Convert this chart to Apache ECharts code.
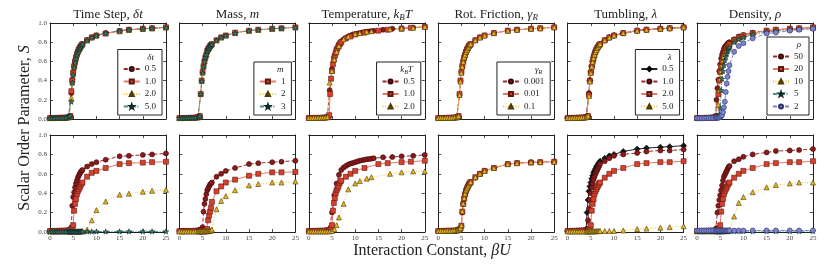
<!DOCTYPE html>
<html><head><meta charset="utf-8">
<script src="https://cdn.jsdelivr.net/npm/echarts@6/dist/echarts.min.js"></script>
<style>html,body{margin:0;padding:0;background:#fff}#c{width:830px;height:277px}</style>
</head><body><div id="c"></div><script>
// ---------- x grids ----------
const XS = [0,0.5,1,1.5,2,2.5,3,3.5,4, 4.2,4.4,4.6,4.8,5,5.2,5.4,5.6,5.8,6,6.2,6.4,6.6,6.8,7, 8,9,10,12,15,17,20,22,25];
const XT = [0,0.5,1,1.5,2,2.5,3,3.5,4, 4.5,5,5.5,6,6.5,7,7.5,8,8.5,9,9.5,10,10.5,11,11.5,12,12.5,13,13.5,14, 16,18,20,22.5,25];
const XT2 = [0,0.5,1,1.5,2,2.5,3,3.5,4, 4.5,5,5.5,6,6.5, 7.5,8.5,10,11,12.5,13.5, 17.5,20,22.5,25];
const X_TICKS = [0,5,10,15,20,25];
const Y_TICKS = [0,0.2,0.4,0.6,0.8,1.0];

// ---------- top row ----------
const ts_top_05 = [.010,.010,.010,.011,.012,.012,.013,.015,.018, .020,.030,.270,.410,.490,.550,.600,.640,.670,.700,.720,.740,.760,.770,.780, .820,.850,.870,.895,.915,.930,.940,.945,.955];
const ts_top_10 = [.010,.010,.011,.011,.012,.013,.013,.015,.017, .020,.030,.290,.400,.480,.550,.600,.640,.675,.700,.725,.740,.755,.770,.780, .820,.850,.870,.890,.915,.930,.940,.945,.955];
const ts_top_20 = [.010,.011,.011,.012,.012,.013,.014,.015,.018, .022,.030,.220,.380,.470,.540,.590,.630,.670,.700,.720,.740,.755,.770,.780, .820,.850,.870,.895,.915,.930,.940,.945,.955];
const ts_top_50 = [.010,.010,.011,.012,.012,.013,.014,.016,.020, .025,.035,.180,.380,.460,.540,.590,.630,.665,.695,.720,.735,.755,.770,.780, .820,.850,.870,.895,.920,.930,.940,.945,.955];

const m_top_1 = [.010,.010,.010,.011,.012,.012,.013,.015,.018, .020,.030,.260,.400,.490,.550,.600,.640,.670,.710,.730,.740,.760,.770,.780, .820,.850,.870,.900,.920,.930,.940,.945,.955];
const m_top_2 = [.010,.011,.011,.011,.012,.013,.013,.015,.017, .021,.030,.270,.400,.485,.550,.600,.645,.675,.705,.725,.745,.760,.770,.780, .820,.850,.870,.895,.920,.930,.940,.945,.955];
const m_top_3 = [.010,.010,.011,.012,.012,.013,.014,.016,.019, .022,.032,.260,.395,.480,.545,.600,.640,.670,.705,.725,.740,.760,.770,.780, .820,.850,.870,.895,.920,.930,.940,.945,.955];

const tp_top_05 = [.010,.010,.011,.011,.012,.013,.014,.016,.020, .300,.520,.650,.730,.780,.810,.830,.845,.860,.870,.880,.885,.890,.895,.900,.905,.910,.912,.915,.918, .930,.940,.945,.952,.960];
const tp_top_10 = [.010,.010,.011,.011,.012,.012,.013,.015,.018, .020,.040,.260,.420,.500,.570,.620,.660,.690,.720,.740,.760,.775,.790,.800, .840,.860,.880,.900,.920,.930,.940,.950,.960];
const tp_top_20 = [.010,.011,.011,.012,.013,.013,.014,.016,.020, .380,.500,.620,.700,.760, .830,.860,.885,.895,.910,.915, .935,.945,.950,.960];

const rf_top_0001 = [.010,.010,.010,.011,.012,.012,.013,.015,.018, .020,.030,.250,.400,.490,.550,.600,.640,.670,.705,.725,.745,.760,.770,.780, .820,.850,.870,.895,.920,.930,.940,.945,.955];
const rf_top_001 = [.010,.010,.011,.011,.012,.013,.013,.015,.017, .020,.030,.260,.400,.490,.550,.600,.640,.670,.700,.725,.740,.760,.770,.780, .820,.850,.870,.895,.920,.930,.940,.945,.955];
const rf_top_01 = [.010,.011,.011,.012,.012,.013,.014,.016,.019, .021,.030,.250,.390,.480,.545,.595,.640,.670,.700,.720,.740,.755,.770,.780, .820,.850,.870,.895,.920,.930,.940,.945,.955];

const tu_top_05 = [.010,.010,.010,.011,.012,.012,.013,.015,.018, .020,.030,.260,.400,.490,.550,.600,.640,.675,.705,.725,.745,.760,.770,.780, .820,.850,.870,.895,.920,.930,.940,.945,.955];
const tu_top_10 = [.010,.010,.011,.011,.012,.013,.013,.015,.017, .020,.032,.270,.405,.490,.550,.600,.645,.675,.705,.725,.745,.760,.770,.780, .820,.850,.870,.895,.920,.930,.940,.945,.955];
const tu_top_20 = [.010,.011,.011,.012,.012,.013,.014,.016,.019, .021,.030,.250,.395,.485,.545,.600,.640,.670,.700,.720,.740,.755,.770,.780, .820,.850,.870,.895,.920,.930,.940,.945,.955];
const tu_top_50 = [.010,.010,.011,.012,.012,.013,.014,.016,.020, .022,.034,.240,.390,.480,.545,.595,.635,.670,.700,.720,.740,.755,.770,.780, .820,.850,.870,.895,.920,.930,.940,.945,.955];

const dn_top_50 = [.010,.010,.011,.012,.012,.013,.015,.018,.030, .200,.320,.410,.500,.570,.630,.670,.700,.730,.750,.760,.775,.785,.795,.800, .830,.860,.875,.900,.920,.930,.940,.945,.955];
const dn_top_20 = [.010,.010,.010,.011,.012,.012,.013,.015,.018, .020,.030,.260,.400,.490,.550,.600,.640,.670,.705,.725,.745,.760,.770,.780, .820,.850,.870,.895,.920,.930,.940,.945,.955];
const dn_top_10 = [.010,.010,.011,.011,.012,.013,.014,.016,.019, .022,.030,.150,.300,.420,.500,.560,.610,.650,.680,.700,.720,.740,.750,.760, .810,.840,.860,.890,.910,.925,.935,.940,.950];
const dn_top_5 = [.010,.010,.010,.011,.011,.012,.013,.014,.016, .018,.020,.025,.050,.110,.300,.420,.500,.560,.610,.650,.680,.710,.730,.745, .800,.830,.850,.880,.905,.915,.930,.935,.945];
const dn_top_2 = [.008,.008,.008,.009,.009,.010,.010,.011,.012, .012,.013,.014,.016,.020,.030,.040,.070,.120,.180,.280,.370,.440,.500,.560, .700,.760,.790,.840,.890,.900,.920,.930,.940];

// ---------- bottom row ----------
const ts_bot_05 = [.010,.010,.011,.011,.012,.012,.013,.014,.015, .015,.020,.050,.270,.360,.410,.460,.500,.530,.560,.580,.600,.615,.630,.640, .675,.700,.720,.745,.780,.785,.795,.800,.810];
const ts_bot_10 = [.010,.010,.011,.011,.012,.012,.013,.014,.016, .018,.020,.025,.035,.070,.220,.290,.340,.390,.420,.440,.460,.480,.500,.510, .570,.610,.630,.660,.700,.710,.715,.720,.725];
const ts_bot_20 = [.005,.005,.005,.005,.005,.005,.005,.005,.005, .005,.005,.005,.005,.005,.005,.006,.006,.006,.006,.006,.007,.007,.008,.008, .025,.120,.225,.315,.385,.395,.415,.425,.435];
const ts_bot_50 = [.004,.004,.004,.004,.005,.005,.005,.005,.005, .005,.005,.005,.005,.005,.005,.005,.005,.005,.005,.005,.005,.005,.005,.005, .005,.005,.005,.005,.006,.006,.006,.006,.006];

const m_bot_1 = [.010,.010,.011,.011,.012,.012,.013,.014,.016, .018,.020,.025,.030,.050,.210,.290,.340,.390,.430,.450,.470,.490,.500,.510, .570,.600,.630,.660,.700,.710,.720,.725,.735];
const m_bot_2 = [.008,.008,.009,.009,.010,.010,.011,.011,.012, .012,.013,.013,.014,.015,.016,.017,.018,.020,.030,.120,.170,.210,.250,.310, .420,.470,.510,.540,.580,.600,.615,.615,.620];
const m_bot_3 = [.006,.006,.006,.006,.006,.006,.006,.006,.006, .006,.006,.006,.006,.006,.006,.007,.007,.008,.008,.009,.010,.012,.015,.025, .235,.320,.370,.430,.480,.495,.510,.510,.520];

const tp_bot_05 = [.010,.010,.011,.011,.012,.012,.013,.014,.016, .030,.200,.380,.500,.590,.640,.665,.680,.695,.705,.712,.720,.728,.735,.740,.745,.750,.752,.756,.760, .770,.772,.780,.785,.795];
const tp_bot_10 = [.010,.010,.011,.011,.012,.012,.013,.014,.016, .018,.020,.025,.040,.070,.220,.300,.350,.400,.430,.450,.470,.500,.520,.530, .570,.600,.630,.660,.700,.710,.720,.725,.735];
const tp_bot_20 = [.005,.005,.005,.005,.005,.005,.005,.005,.005, .006,.010,.030,.070,.150, .290,.440,.500,.525,.550,.565, .600,.615,.625,.625];

const rf_bot_0001 = [.010,.010,.011,.011,.012,.012,.013,.014,.016, .018,.020,.025,.035,.060,.200,.290,.350,.390,.430,.450,.470,.490,.505,.515, .560,.600,.630,.660,.700,.710,.720,.720,.725];
const rf_bot_001 = [.010,.010,.011,.012,.012,.013,.013,.014,.016, .018,.021,.026,.036,.065,.210,.290,.345,.390,.425,.450,.470,.490,.505,.515, .565,.600,.630,.660,.700,.710,.715,.720,.725];
const rf_bot_01 = [.011,.011,.011,.012,.012,.013,.014,.015,.017, .019,.022,.028,.040,.070,.215,.295,.350,.395,.430,.450,.470,.490,.505,.515, .565,.600,.630,.660,.700,.710,.720,.720,.725];

const tu_bot_05 = [.010,.010,.011,.011,.012,.013,.014,.016,.030, .200,.330,.420,.470,.510,.550,.580,.610,.630,.650,.670,.685,.700,.715,.730, .760,.785,.800,.830,.855,.865,.875,.880,.890];
const tu_bot_10 = [.010,.010,.011,.011,.012,.013,.014,.015,.020, .030,.120,.240,.330,.400,.460,.500,.540,.570,.600,.620,.640,.660,.680,.700, .730,.760,.785,.800,.815,.830,.840,.840,.850];
const tu_bot_20 = [.010,.010,.011,.011,.012,.012,.013,.014,.016, .018,.020,.025,.035,.070,.220,.290,.340,.390,.420,.440,.460,.480,.500,.510, .560,.600,.630,.660,.700,.710,.720,.720,.730];
const tu_bot_50 = [.005,.005,.005,.005,.005,.005,.005,.005,.006, .006,.006,.006,.007,.007,.007,.008,.008,.008,.008,.009,.009,.009,.010,.010, .010,.010,.010,.015,.030,.035,.045,.050,.060];

const dn_bot_50 = [.010,.010,.011,.011,.012,.013,.014,.016,.020, .040,.200,.270,.330,.380,.430,.480,.530,.570,.590,.610,.630,.650,.670,.680, .730,.750,.775,.800,.820,.835,.840,.845,.855];
const dn_bot_20 = [.010,.010,.011,.011,.012,.012,.013,.014,.016, .018,.020,.025,.035,.070,.210,.290,.340,.390,.420,.440,.460,.480,.500,.510, .560,.600,.630,.660,.700,.710,.720,.720,.730];
const dn_bot_10 = [.008,.008,.008,.008,.008,.008,.008,.008,.008, .008,.008,.008,.008,.008,.008,.009,.009,.009,.010,.010,.011,.012,.014,.020, .160,.300,.360,.410,.460,.485,.500,.510,.510];
const dn_bot_5 = [.007,.007,.007,.007,.008,.008,.008,.008,.008, .008,.008,.008,.008,.008,.008,.008,.008,.008,.008,.008,.008,.008,.008,.008, .008,.008,.009,.009,.009,.009,.009,.009,.009];
const dn_bot_2 = [.015,.015,.015,.015,.015,.015,.015,.015,.015, .015,.015,.015,.015,.015,.015,.015,.015,.015,.015,.015,.015,.015,.015,.015, .015,.015,.015,.016,.016,.016,.016,.016,.016];

// ---------- layout / style ----------
const W = 830, HH = 277;
const FONT = '"Liberation Serif", "DejaVu Serif", serif';
const GL = 50, GSTEP = 129.4, GW = 116;
const ROW_TOP = [23, 135], ROW_H = [96, 97];
const STAR = 'path://M50,0 L61.8,35.1 L97.6,34.5 L69.1,56.2 L79.4,90.5 L50,70 L20.6,90.5 L30.9,56.2 L2.4,34.5 L38.2,35.1 Z';
const STY = {
  circ: {symbol:'circle', size:5, fill:'#8b1a1a', edge:'#3a0808', line:'#9e2a2a', dash:[4,2]},
  sq:   {symbol:'rect', size:5, fill:'#d8402c', edge:'#5c1a12', line:'#e57a66', dash:'solid'},
  tri:  {symbol:'triangle', size:5, fill:'#e6b323', edge:'#4a3a05', line:'#f2c444', dash:[1,1.5]},
  star: {symbol:STAR, size:5.5, fill:'#3d7d74', edge:'#0f2a28', line:'#4f8f86', dash:[4,1.5,1,1.5]},
  dia:  {symbol:'diamond', size:6, fill:'#161616', edge:'#000', line:'#222', dash:'solid'},
  blue: {symbol:'circle', size:5, fill:'#7d84cc', edge:'#2c3270', line:'#7d84cc', dash:[4,2]}
};

const TITLES = ['Time Step, {i|δt}','Mass, {i|m}','Temperature, {i|k}{s|B}{i|T}','Rot. Friction, {i|γ}{s|R}','Tumbling, {i|λ}','Density, {i|ρ}'];
const LEG_TITLES = ['{i|δt}','{i|m}','{i|k}{s|B}{i|T}','{i|γ}{s|R}','{i|λ}','{i|ρ}'];

const PANELS = [
  {row:0,col:0, s:[['0.5','circ',XS,ts_top_05],['1.0','sq',XS,ts_top_10],['2.0','tri',XS,ts_top_20],['5.0','star',XS,ts_top_50]]},
  {row:0,col:1, s:[['1','sq',XS,m_top_1],['2','tri',XS,m_top_2],['3','star',XS,m_top_3]]},
  {row:0,col:2, s:[['0.5','circ',XT,tp_top_05],['1.0','sq',XS,tp_top_10],['2.0','tri',XT2,tp_top_20]]},
  {row:0,col:3, s:[['0.001','circ',XS,rf_top_0001],['0.01','sq',XS,rf_top_001],['0.1','tri',XS,rf_top_01]]},
  {row:0,col:4, s:[['0.5','dia',XS,tu_top_05],['1.0','circ',XS,tu_top_10],['2.0','sq',XS,tu_top_20],['5.0','tri',XS,tu_top_50]]},
  {row:0,col:5, s:[['50','circ',XS,dn_top_50],['20','sq',XS,dn_top_20],['10','tri',XS,dn_top_10],['5','star',XS,dn_top_5],['2','blue',XS,dn_top_2]]},
  {row:1,col:0, s:[['0.5','circ',XS,ts_bot_05],['1.0','sq',XS,ts_bot_10],['2.0','tri',XS,ts_bot_20],['5.0','star',XS,ts_bot_50]]},
  {row:1,col:1, s:[['1','circ',XS,m_bot_1],['2','sq',XS,m_bot_2],['3','tri',XS,m_bot_3]]},
  {row:1,col:2, s:[['0.5','circ',XT,tp_bot_05],['1.0','sq',XS,tp_bot_10],['2.0','tri',XT2,tp_bot_20]]},
  {row:1,col:3, s:[['0.001','circ',XS,rf_bot_0001],['0.01','sq',XS,rf_bot_001],['0.1','tri',XS,rf_bot_01]]},
  {row:1,col:4, s:[['0.5','dia',XS,tu_bot_05],['1.0','circ',XS,tu_bot_10],['2.0','sq',XS,tu_bot_20],['5.0','tri',XS,tu_bot_50]]},
  {row:1,col:5, s:[['50','circ',XS,dn_bot_50],['20','sq',XS,dn_bot_20],['10','tri',XS,dn_bot_10],['5','star',XS,dn_bot_5],['2','blue',XS,dn_bot_2]]}
];

const LEG_PT = 15, LEG_PB = 4, LEG_IH = 9, LEG_GAP = 3.5;
const richFor = (sz) => ({
  i: {font: 'italic ' + sz + 'px ' + FONT, fill:'#222'},
  s: {font: 'italic ' + Math.round(sz*0.68) + 'px ' + FONT, fill:'#222', padding:[Math.round(sz*0.45),0,0,0]}
});

const grids=[], xAxes=[], yAxes=[], series=[], legends=[], graphics=[];
const axLine = {show:true, onZero:false, lineStyle:{color:'#222', width:1}};
const tick = {show:true, inside:true, length:3, lineStyle:{color:'#222', width:0.8}};
const lblBase = {fontSize:7, fontFamily:FONT, color:'#444'};

PANELS.forEach((p, pi) => {
  const L = GL + p.col*GSTEP, T = ROW_TOP[p.row], H = ROW_H[p.row];
  grids.push({left:L, top:T, width:GW, height:H, containLabel:false, outerBoundsMode:'none'});
  const gi = grids.length - 1;
  const xBase = {type:'value', gridIndex:gi, min:X_TICKS[0], max:X_TICKS[X_TICKS.length-1], interval:X_TICKS[1]-X_TICKS[0],
    axisLine:axLine, axisTick:tick, splitLine:{show:false}};
  xAxes.push(Object.assign({}, xBase, {position:'bottom', axisLabel:Object.assign({show:p.row===1, margin:3}, lblBase)}));
  xAxes.push(Object.assign({}, xBase, {position:'top', axisLabel:{show:false}}));
  const yBase = {type:'value', gridIndex:gi, min:Y_TICKS[0], max:Y_TICKS[Y_TICKS.length-1], interval:0.2,
    axisLine:axLine, axisTick:tick, splitLine:{show:false}};
  yAxes.push(Object.assign({}, yBase, {position:'left', axisLabel:Object.assign({show:p.col===0, margin:3, formatter:v=>v.toFixed(1)}, lblBase)}));
  yAxes.push(Object.assign({}, yBase, {position:'right', axisLabel:{show:false}}));
  const names = [];
  p.s.forEach(([lab, st, xs, ys], si) => {
    const S = STY[st];
    const name = 'p' + pi + 's' + si + '|' + lab;
    names.push(name);
    series.push({type:'line', name, xAxisIndex:2*gi, yAxisIndex:2*gi,
      data: xs.map((x,k)=>[x, ys[k]]),
      symbol:S.symbol, symbolSize:S.size, symbolKeepAspect:true, showSymbol:true,
      itemStyle:{color:S.fill, borderColor:S.edge, borderWidth:0.6},
      lineStyle:{color:S.line, width:1, type:S.dash},
      animation:false, silent:true, emphasis:{disabled:true}});
  });
  if (p.row === 0) {
    graphics.push({type:'text', x:L+GW/2, y:15, silent:true,
      style:{text:TITLES[p.col], font:'13px '+FONT, fill:'#222', align:'center', verticalAlign:'middle', rich:richFor(13)}});
    const n = names.length;
    const boxR = L + GW - 4, boxB = T + H - 4;
    const boxH = LEG_PT + n*LEG_IH + (n-1)*LEG_GAP + LEG_PB;
    legends.push({data:names, orient:'vertical', right: W - boxR, bottom: HH - boxB,
      itemWidth:16, itemHeight:5, itemGap:LEG_GAP, padding:[LEG_PT,6,LEG_PB,5],
      borderColor:'#222', borderWidth:1, borderRadius:0, backgroundColor:'#fff',
      textStyle:{fontSize:9, fontFamily:FONT, color:'#222', lineHeight:LEG_IH},
      formatter:(nm)=>nm.split('|')[1], selectedMode:false});
    graphics.push({type:'text', x:boxR-8, y:boxB-boxH+8, silent:true, z:100,
      style:{text:LEG_TITLES[p.col], font:'9px '+FONT, fill:'#222', align:'right', verticalAlign:'middle', rich:richFor(9)}});
  }
});

graphics.push({type:'text', x:25, y:128, rotation:Math.PI/2, silent:true,
  style:{text:'Scalar Order Parameter, {i|S}', font:'16px '+FONT, fill:'#222', align:'center', verticalAlign:'middle', rich:richFor(16)}});
graphics.push({type:'text', x:432, y:251, silent:true,
  style:{text:'Interaction Constant, {i|βU}', font:'16px '+FONT, fill:'#222', align:'center', verticalAlign:'middle', rich:richFor(16)}});

const chart = echarts.init(document.getElementById('c'), null, {renderer:'canvas'});
chart.setOption({
  animation:false, backgroundColor:'#fff',
  grid:grids, xAxis:xAxes, yAxis:yAxes, series:series, legend:legends, graphic:graphics
});
</script></body></html>
